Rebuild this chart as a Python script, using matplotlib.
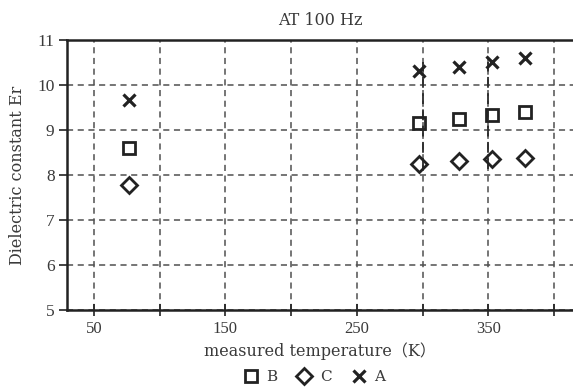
import matplotlib
matplotlib.use("Agg")
import matplotlib.pyplot as plt
import numpy as np

# Data
temps_low = [77]
temps_high = [297, 328, 353, 378]
temperature = temps_low + temps_high
series_B = [8.60, 9.16, 9.24, 9.33, 9.41]
series_C = [7.78, 8.24, 8.32, 8.35, 8.39]
series_A = [9.67, 10.31, 10.41, 10.52, 10.61]

xticks_major = [50, 100, 150, 200, 250, 300, 350, 400]
xtick_labels = ["50", "", "150", "", "250", "", "350", ""]
yticks = [5, 6, 7, 8, 9, 10, 11]

plt.rcParams['font.family'] = ['DejaVu Serif', 'Noto Sans CJK JP']

fig = plt.figure(figsize=(5.73, 3.89), dpi=100)
ax = fig.add_axes([0.117, 0.203, 0.883, 0.694])

ink = "#222222"
txt = "#3a3a3a"
ax.set_xlim(29.5, 414.5)
ax.set_ylim(5, 11)

ax.grid(True, which='major', color="#505050", linestyle=(0, (4, 3)), linewidth=1.1)
ax.set_axisbelow(True)

# darker dashed guides at 300 and 350 spanning the data
ymin = min(series_C[1:]) - 0.1
ymax = max(series_A[1:]) - 0.1
ax.vlines([300, 350], ymin, ymax, colors="#2a2a2a", linestyles=(0, (6, 3)), linewidth=1.3, zorder=1)

ms = dict(markerfacecolor='none', markeredgecolor=ink, linestyle='none')
ax.plot(temperature, series_B, marker='s', markersize=9, markeredgewidth=2.0, label='B', **ms)
ax.plot(temperature, series_C, marker='D', markersize=8.5, markeredgewidth=2.0, label='C', **ms)
ax.plot(temperature, series_A, marker='x', markersize=8, markeredgewidth=2.3, color=ink,
        linestyle='none', label='A')

ax.set_xticks(xticks_major)
ax.set_xticklabels(xtick_labels, family=['Liberation Serif'])
ax.set_yticks(yticks)
ax.set_yticklabels([str(v) for v in yticks], family=['Liberation Serif'])
ax.tick_params(axis='x', direction='inout', length=8, width=1.2, colors=ink, labelsize=12, pad=4)
ax.tick_params(axis='y', direction='out', length=6, width=1.2, colors=ink, labelsize=12.5, pad=3)
for lab in ax.get_xticklabels() + ax.get_yticklabels():
    lab.set_color(txt)

for s in ['left', 'bottom', 'top']:
    ax.spines[s].set_linewidth(1.8)
    ax.spines[s].set_color(ink)
ax.spines['right'].set_visible(False)

ax.set_title("AT 100 Hz", fontsize=11.5, color=txt, pad=11)
ax.set_xlabel("measured temperature（K）", fontsize=11.5, color=txt, labelpad=4)
ax.set_ylabel("Dielectric constant Er", fontsize=11.5, color=txt, labelpad=8)

handles, labels = ax.get_legend_handles_labels()
leg = fig.legend(handles, labels, loc='center', bbox_to_anchor=(0.548, 0.03), ncol=3,
                 frameon=False, fontsize=11, handletextpad=0.5, columnspacing=1.3,
                 handlelength=1.0, borderaxespad=0, borderpad=0)
for t in leg.get_texts():
    t.set_color(txt)

fig.savefig("out.png", dpi=100)
